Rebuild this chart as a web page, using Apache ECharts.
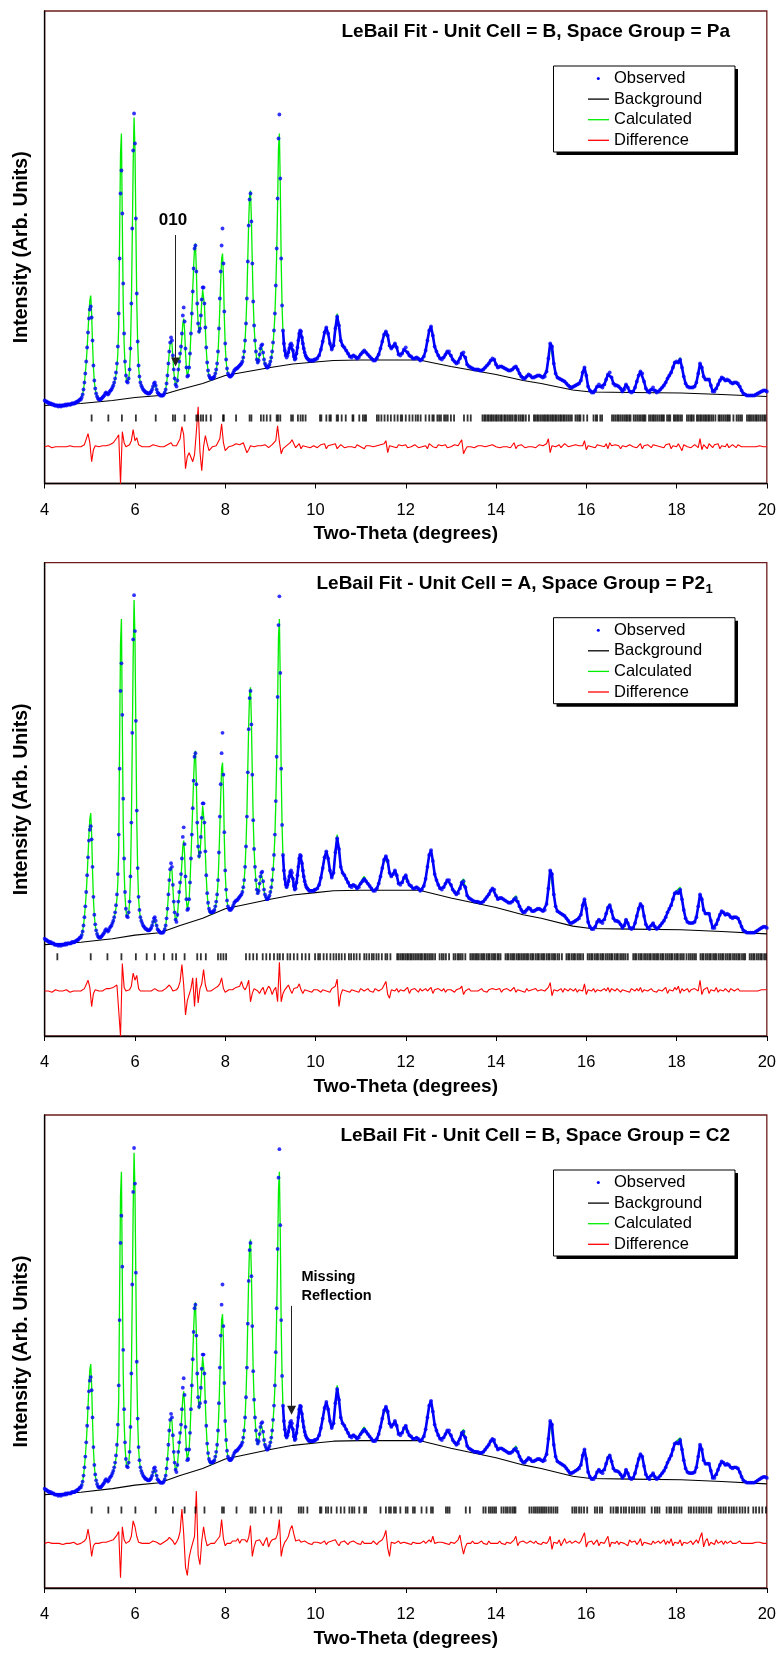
<!DOCTYPE html>
<html><head><meta charset="utf-8">
<script src="https://cdn.jsdelivr.net/npm/echarts@6/dist/echarts.min.js"></script>
<style>html,body{margin:0;padding:0;background:#fff;overflow:hidden}#c{width:779px;height:1653px}</style>
</head><body><div id="c"></div>
<script>
// ---------- DATA (intensity in arbitrary units) ----------
const X_TICKS = [4, 6, 8, 10, 12, 14, 16, 18, 20];
const LOW_START = 4, LOW_STEP = 0.02;     // 2theta grid of observedLow / calculatedLow
const HIGH_START = 10, HIGH_STEP = 0.04;  // 2theta grid of observedHigh / calculatedHigh
const DIFF_START = 4, DIFF_STEP = 0.04;   // 2theta grid of the difference curves

const observedLow = [
83,82,82,81,81,80,80,80,79,79,
79,78,78,78,78,77,78,78,77,78,
78,78,78,79,78,79,79,79,79,79,
80,80,80,80,81,81,82,82,83,84,
84,86,89,94,101,110,122,136,151,165,
174,177,166,143,118,103,95,90,87,85,
84,84,84,85,86,87,88,90,91,90,
89,90,92,93,94,96,98,101,105,111,
120,137,170,225,290,313,270,200,150,122,
108,102,101,105,114,135,180,255,333,370,
340,265,190,142,118,107,101,98,96,94,
93,92,91,91,90,90,90,91,92,94,
97,100,101,98,94,91,90,89,88,88,
88,88,89,91,94,100,108,120,132,141,
146,143,128,114,105,99,97,103,114,122,
130,137,150,168,176,162,135,116,107,108,
116,130,150,170,192,215,235,238,212,180,
160,152,155,168,184,196,196,180,156,136,
121,113,108,106,105,105,105,106,107,110,
114,120,132,155,185,212,238,255,220,172,
140,124,115,110,108,107,107,108,109,111,
113,114,115,115,116,117,118,119,120,122,
126,132,143,160,185,222,258,284,290,262,
220,182,158,143,132,124,121,123,129,135,
138,139,131,124,120,118,116,116,117,119,
122,126,132,141,153,170,198,235,285,345,
369,305,225,178,153,140,133,128,126,128,
131,135,139,140,138,133,127,124,125,130,
136,143,150,153,152,146,140,135,131,128,
126,125,124,123,123,123,123,123,123,124];

const observedHigh = [
124,125,128,134,142,151,156,150,140,134,
138,155,167,158,143,138,136,133,130,127,
126,128,127,125,126,129,131,133,131,129,
127,125,123,123,125,129,135,142,149,152,
148,138,135,137,140,136,129,128,130,134,
136,131,128,127,125,125,126,125,123,124,
127,133,143,153,157,148,137,132,128,125,
124,126,129,132,132,128,124,122,120,121,
125,130,131,126,119,117,116,115,114,114,
114,113,113,114,116,118,120,123,125,124,
119,116,117,117,116,115,114,113,113,114,
116,117,114,110,107,105,105,107,109,108,
106,106,107,108,108,107,106,107,112,125,
140,137,120,110,106,105,104,103,102,100,
98,96,96,97,98,99,100,103,111,116,
108,97,93,91,91,93,97,99,97,96,
99,104,109,111,106,100,98,98,97,95,
92,94,99,96,92,91,92,96,102,108,
112,110,102,95,92,91,94,96,93,91,
92,94,96,98,101,105,108,111,116,121,
122,121,124,116,107,100,97,96,96,96,
97,101,110,120,116,107,104,104,104,98,
92,92,95,99,103,106,105,103,104,103,
101,100,101,101,100,97,93,90,89,88,
88,88,88,88,89,90,91,92,93,93,
92];

const calculatedLow = [
83,82,82,81,81,80,80,80,79,79,
79,78,78,78,78,78,78,78,78,78,
78,78,78,78,78,79,79,79,79,79,
80,80,80,80,81,81,82,82,83,84,
84,86,89,94,101,110,121,135,152,170,
183,188,170,140,116,102,94,90,87,85,
84,84,84,85,86,87,88,90,91,90,
89,90,92,93,94,96,98,101,104,109,
116,130,158,250,330,350,260,180,140,118,
107,101,100,104,113,134,178,245,318,366,
335,258,182,140,117,106,101,98,96,94,
93,92,91,91,90,90,90,91,92,94,
97,99,100,98,94,91,90,89,88,88,
88,88,89,91,94,100,108,119,131,140,
143,140,126,112,104,98,97,102,112,120,
127,134,146,160,165,153,131,115,107,108,
116,130,150,171,194,217,236,240,214,178,
160,150,153,166,182,194,195,178,154,134,
120,112,107,104,103,103,104,105,106,109,
113,119,130,150,176,202,225,230,208,166,
138,122,114,110,108,107,107,108,109,111,
113,114,115,115,116,117,118,119,120,122,
126,132,143,161,187,225,262,288,293,264,
221,182,157,142,131,123,120,122,128,134,
137,138,130,123,119,117,115,115,116,118,
121,125,131,140,152,168,195,230,278,335,
350,298,222,176,152,139,132,127,125,127,
130,133,137,138,136,132,126,123,124,129,
135,142,149,152,151,145,139,134,130,127,
126,125,124,123,123,123,123,123,123,124];

const calculatedHigh = [
124,125,128,134,142,151,155,150,140,134,
139,157,170,158,143,138,136,133,130,127,
126,128,127,125,126,130,133,135,132,129,
127,125,123,123,125,129,135,142,150,151,
146,138,135,137,139,136,129,128,130,134,
135,131,128,127,125,125,126,125,123,124,
127,133,143,153,156,148,137,132,128,125,
124,126,129,132,131,128,124,122,120,121,
126,131,133,126,119,117,116,115,114,114,
114,113,113,114,116,118,120,123,124,124,
119,116,117,117,116,115,114,113,113,114,
117,119,114,110,107,105,105,107,109,108,
106,106,107,108,108,107,106,107,112,124,
138,139,120,110,106,105,104,103,102,100,
98,96,96,97,98,99,100,103,110,114,
108,97,93,91,91,93,97,99,97,96,
99,104,110,112,106,100,98,98,97,95,
92,94,99,96,92,91,92,96,102,108,
112,110,102,95,92,91,94,96,93,91,
92,94,96,98,101,105,108,111,116,121,
123,122,126,116,107,100,97,96,96,96,
97,101,110,118,116,107,104,104,104,98,
92,92,95,99,103,106,105,103,104,103,
101,100,101,101,100,97,93,90,89,88,
88,88,88,88,89,90,91,92,93,93,
92];

const background = [[4.0,78],[4.8,80],[5.5,83],[6.0,86],[6.55,88],[7.0,94],[7.5,100],[8.0,108],[8.5,112],[9.0,116],[9.5,119.5],[10.0,121.5],[10.4,123],[11.0,123.5],[12.3,123.5],[13.0,117],[13.5,113],[14.0,109],[14.6,103],[15.0,100],[15.7,93.5],[16.1,91.5],[17.0,91],[18.1,90.5],[19.0,89],[20.0,87]];

const differencePa = [
0,0,1,0,-1,0,0,1,0,0, 0,-1,0,0,1,0,0,-1,0,1, 0,1,2,4,13,4,-15,-3,1,0, 0,1,1,2,1,2,2,3,4,6,
9,12,-37,15,4,0,-1,2,6,17, 6,9,2,0,0,-1,0,1,0,1, 2,3,1,0,0,-1,0,1,2,3, 4,1,-1,1,3,8,20,12,-22,-10,
-6,-7,-15,-8,15,40,-5,-24,0,11, 3,-4,-2,0,0,1,3,8,23,4, -4,-2,0,0,1,2,3,4,2,3, 4,2,-6,-3,1,3,0,-1,1,2,
1,0,2,1,-1,0,2,3,6,21, 5,-7,-2,0,1,2,4,7,3,-1, 1,3,-2,1,2,0,1,-1,0,1, 0,-1,1,2,1,3,-2,1,0,2,
1,3,-2,0,2,1,-1,1,0,2, 0,1,-1,2,1,0,2,-2,1,0, 1,2,0,-1,1,0,2,1,3,6, -6,1,2,0,1,-1,2,0,1,0,
2,-1,1,0,1,2,0,-1,1,0, 2,1,-2,3,1,0,1,-1,2,0, 1,0,2,-1,1,0,1,2,0,1, 3,7,-7,-3,0,1,0,1,-1,0,
1,0,1,2,0,-1,1,0,2,1, 0,1,-1,1,0,2,0,1,-1,1, 4,-2,1,0,2,1,-1,1,0,2, 0,1,-1,1,2,0,1,-1,3,8,
-6,1,2,0,1,2,-1,1,3,1, 0,2,1,-1,2,0,1,2,1,6, -3,1,2,0,1,-1,2,0,1,2, 0,3,-2,4,1,-1,2,0,1,-2,
1,2,0,-1,2,1,0,2,-1,1, 3,-2,1,0,2,1,-1,2,0,1, 2,0,1,-1,2,1,3,-2,1,2, 0,3,1,-4,2,1,0,2,-1,1,
2,1,-1,8,-3,2,1,-2,3,1, -1,2,0,3,-2,1,2,0,3,-1, 1,2,0,-1,2,1,0,1,0,1, 0,1,0,1,0,0,1,0,0,1,
0];

const differenceP21 = [
0,1,0,0,-1,0,1,0,0,-1, 0,0,1,0,-1,0,0,1,0,1, 0,1,2,3,9,3,-13,-2,1,0, 0,1,0,1,2,1,2,2,3,4,
5,6,-38,23,3,0,0,1,4,15, 9,13,2,0,1,0,-1,0,1,0, 1,2,1,0,-1,0,1,2,3,5, 3,0,-1,1,3,8,22,5,-20,-8,
-3,2,11,-13,11,-10,2,6,18,5, 0,-1,0,1,2,3,4,6,11,2, -1,0,1,2,1,2,3,2,4,8, 3,1,4,9,-9,-2,2,3,0,-2,
1,3,-3,1,4,2,-3,1,3,-9, 24,-9,-2,1,3,5,1,-2,2,1, 3,6,1,-2,1,2,0,1,-1,1, 0,1,2,-1,1,2,0,1,-1,2,
1,4,10,-13,-3,1,2,0,1,-1, 1,2,0,1,-1,2,1,0,1,2, 0,1,-1,2,1,0,1,2,3,8, -3,-6,1,2,0,2,-1,1,2,0,
1,3,-2,1,0,2,1,-1,2,0, 1,2,0,-1,3,-2,1,0,2,1, 0,2,-1,1,0,1,2,-1,1,0, 2,4,-3,0,1,2,0,1,0,1,
0,1,2,0,1,-1,1,0,2,1, 1,0,2,-1,1,0,2,1,0,1, 3,-1,1,2,0,1,-1,2,0,1, 1,0,2,0,-1,1,2,0,1,3,
7,-4,1,2,0,1,2,-1,2,1, 0,2,1,0,2,-1,1,2,0,6, -3,1,2,0,2,-1,1,2,0,1, 2,0,3,-1,2,1,0,2,1,-1,
1,2,0,1,-1,2,1,0,2,0, 3,-1,1,2,0,1,2,0,1,-1, 1,2,0,1,3,-2,1,2,0,3, 1,4,-2,2,0,1,2,-1,1,0,
2,1,0,9,-3,1,2,3,-2,1, 2,0,3,-1,1,2,0,2,1,-1, 2,1,0,1,2,0,1,0,1,0, 1,0,1,0,1,0,0,1,0,1,
1];

const differenceC2 = [
0,0,1,0,0,-1,0,1,0,0, -1,0,0,1,0,0,1,0,-1,0, 0,1,2,4,12,3,-11,-2,0,1, 0,0,1,2,1,1,2,3,3,5,
7,10,-29,14,3,0,-1,2,6,19, 14,6,1,0,0,1,0,-1,0,1, 2,2,1,0,-1,0,1,2,3,5, 6,2,-1,1,4,10,29,8,-20,-27,
-12,-5,-6,6,44,-10,-18,2,14,4, -2,-1,0,1,0,2,3,6,20,4, -2,0,1,0,2,3,2,4,0,3, 2,3,1,5,15,-11,-3,2,1,3,
4,-2,2,5,-3,1,3,2,4,8, 20,-11,-3,1,3,6,12,15,8,2, 1,3,1,0,2,1,0,1,-1,1, 0,1,2,0,1,2,-1,1,0,2,
1,3,0,-2,1,0,2,1,-1,1, 0,2,1,0,1,-1,2,0,1,0, 1,0,2,1,-1,1,2,3,6,11, -4,-11,1,2,0,1,2,0,-1,1,
2,0,1,-1,1,2,0,1,0,1, 2,0,1,3,1,6,0,-1,1,0, 1,2,0,1,-1,1,2,0,1,3, 7,-2,-9,-3,0,1,0,2,0,1,
0,1,2,0,1,-1,2,0,1,0, 1,0,2,0,1,-1,1,2,0,1, 3,6,-2,1,0,2,1,0,-1,2, 1,0,2,0,1,-1,1,2,0,2,
6,-5,1,2,0,3,-2,1,4,0, 1,2,0,-1,2,1,0,2,1,9, -3,1,0,2,-1,1,3,-2,1,2, 0,3,6,-3,1,2,0,2,-1,1,
2,0,1,-2,3,1,0,2,-1,1, 4,-2,1,2,0,1,-1,2,0,1, 2,0,1,3,-1,2,0,4,-2,1, 2,0,3,-2,1,2,0,1,2,-1,
1,3,0,5,9,-3,2,4,-2,1, 2,-1,3,0,1,2,-1,2,0,1, 2,0,1,0,1,2,0,1,0,1, 0,1,0,0,1,0,1,0,0,1,
0];

const reflectionsPa = [5.04,5.41,5.71,6.02,6.46,6.84,6.89,7.10,7.36,7.40,7.46,7.51,7.58,7.68,7.95,7.97,8.24,8.54,8.58,8.79,8.85,8.92,9.00,9.14,9.17,9.22,9.46,9.50,9.61,9.67,9.72,9.78,10.10,10.13,10.24,10.31,10.34,10.47,10.50,10.58,10.67,10.82,10.84,10.97,11.05,11.09,11.12,11.36,11.40,11.46,11.53,11.60,11.67,11.75,11.82,11.89,11.92,12.00,12.08,12.15,12.22,12.27,12.33,12.44,12.52,12.59,12.62,12.70,12.74,12.78,12.85,12.89,12.93,13.00,13.07,13.29,13.37,13.44,13.70,13.74,13.77,13.81,13.84,13.88,13.91,13.95,13.99,14.02,14.06,14.10,14.13,14.18,14.21,14.25,14.29,14.33,14.37,14.42,14.45,14.50,14.54,14.58,14.61,14.66,14.73,14.84,14.87,14.91,14.94,14.98,15.02,15.06,15.09,15.13,15.16,15.20,15.24,15.27,15.31,15.34,15.38,15.42,15.45,15.49,15.52,15.56,15.60,15.64,15.68,15.76,15.80,15.84,15.87,15.94,16.02,16.16,16.21,16.24,16.31,16.35,16.57,16.61,16.65,16.69,16.72,16.76,16.80,16.84,16.88,16.91,16.95,16.98,17.05,17.09,17.13,17.17,17.21,17.25,17.28,17.31,17.39,17.43,17.47,17.50,17.54,17.58,17.62,17.66,17.69,17.72,17.79,17.83,17.86,17.94,17.97,18.01,18.04,18.08,18.12,18.23,18.27,18.31,18.34,18.38,18.45,18.48,18.52,18.55,18.59,18.63,18.66,18.70,18.73,18.77,18.81,18.86,18.93,18.96,19.00,19.04,19.08,19.12,19.15,19.18,19.26,19.33,19.37,19.41,19.45,19.56,19.60,19.63,19.67,19.71,19.75,19.78,19.82,19.86,19.90,19.94,19.97];

const reflectionsP21 = [3.99,4.28,5.02,5.39,5.70,6.02,6.26,6.44,6.64,6.83,6.91,7.10,7.38,7.46,7.57,7.84,7.90,7.96,8.02,8.46,8.54,8.62,8.70,8.83,8.91,8.99,9.08,9.16,9.21,9.28,9.38,9.44,9.52,9.60,9.70,9.78,9.86,9.99,10.06,10.10,10.18,10.25,10.33,10.40,10.46,10.52,10.58,10.65,10.74,10.79,10.85,10.91,10.98,11.08,11.13,11.19,11.25,11.29,11.35,11.40,11.47,11.55,11.59,11.66,11.81,11.84,11.88,11.92,11.95,11.99,12.03,12.06,12.10,12.13,12.17,12.21,12.25,12.29,12.33,12.36,12.41,12.44,12.48,12.52,12.56,12.60,12.65,12.75,12.80,12.84,12.89,12.96,13.06,13.10,13.15,13.18,13.22,13.26,13.32,13.43,13.47,13.51,13.55,13.58,13.62,13.67,13.71,13.74,13.79,13.83,13.86,13.91,13.95,13.98,14.03,14.06,14.10,14.21,14.25,14.28,14.33,14.37,14.40,14.45,14.49,14.52,14.56,14.60,14.64,14.68,14.71,14.76,14.80,14.83,14.88,14.92,14.95,15.00,15.04,15.07,15.12,15.16,15.19,15.24,15.28,15.31,15.36,15.40,15.46,15.56,15.60,15.63,15.68,15.72,15.75,15.80,15.84,15.88,15.93,16.03,16.07,16.11,16.14,16.19,16.23,16.26,16.31,16.35,16.38,16.43,16.47,16.51,16.55,16.58,16.63,16.67,16.70,16.75,16.79,16.83,16.87,16.92,17.04,17.08,17.11,17.16,17.20,17.23,17.28,17.32,17.36,17.40,17.43,17.48,17.52,17.56,17.59,17.64,17.68,17.71,17.76,17.80,17.84,17.88,17.91,17.96,18.00,18.03,18.08,18.12,18.16,18.22,18.27,18.31,18.35,18.39,18.43,18.53,18.57,18.60,18.65,18.69,18.73,18.76,18.81,18.85,18.88,18.93,18.97,19.01,19.04,19.09,19.13,19.17,19.20,19.25,19.29,19.33,19.37,19.40,19.45,19.49,19.52,19.62,19.66,19.70,19.73,19.78,19.82,19.86,19.89,19.94,19.98];

const reflectionsC2 = [5.04,5.41,5.70,6.01,6.46,6.84,7.10,7.34,7.54,7.93,7.97,8.25,8.56,8.60,8.67,8.86,9.02,9.18,9.24,9.63,9.68,9.73,9.82,10.10,10.13,10.23,10.28,10.35,10.47,10.56,10.64,10.75,10.81,10.86,10.97,11.08,11.12,11.44,11.56,11.63,11.67,11.74,11.78,11.88,12.00,12.04,12.16,12.20,12.35,12.46,12.56,12.60,12.89,12.93,12.97,13.33,13.42,13.72,13.77,13.84,13.88,13.92,13.96,14.00,14.12,14.17,14.22,14.26,14.31,14.36,14.40,14.43,14.74,14.79,14.84,14.88,14.92,14.96,15.00,15.04,15.08,15.12,15.17,15.22,15.27,15.32,15.36,15.69,15.74,15.78,15.84,15.89,15.95,16.02,16.19,16.24,16.30,16.35,16.54,16.60,16.66,16.70,16.77,16.83,16.88,16.95,17.01,17.06,17.12,17.18,17.24,17.29,17.45,17.52,17.57,17.62,17.78,17.84,17.88,17.95,18.00,18.06,18.11,18.27,18.32,18.38,18.44,18.50,18.55,18.60,18.66,18.72,18.77,18.93,18.98,19.04,19.09,19.16,19.22,19.27,19.33,19.40,19.46,19.52,19.59,19.70,19.76,19.83,19.90,19.98];

const panelTitles = ['LeBail Fit - Unit Cell = B, Space Group = Pa', 'LeBail Fit - Unit Cell = A, Space Group = P2', 'LeBail Fit - Unit Cell = B, Space Group = C2'];
const panelTitleSubscripts = ['', '1', ''];
const legendNames = ['Observed', 'Background', 'Calculated', 'Difference'];
const xAxisTitle = 'Two-Theta (degrees)';
const yAxisTitle = 'Intensity (Arb. Units)';
// annotation arrows: [panel, 2theta, from intensity, to intensity]
const annotationArrows = [[0, 6.9, 248.5, 121.5], [2, 9.47, 237, 149]];

// ---------- LAYOUT / STYLE ----------
const FONT = '"Liberation Sans", Arial, Helvetica, sans-serif';
const GRID_LEFT = 44.7, GRID_WIDTH = 723.8;
const SOLID_TRACE_FROM = 9.28; // above this angle the dense observed points merge into a solid band
const layout = [
  {top: 11,    height: 472.5, yMin: 0,    yMax: 472.5, diffBase: 36.8, tickRow: 65.5},
  {top: 562.7, height: 473.3, yMin: 1.7,  yMax: 397.1, diffBase: 39.3, tickRow: 67.9},
  {top: 1115,  height: 473,   yMin: -0.7, yMax: 397.8, diffBase: 36.9, tickRow: 65.0}
];
const COLORS = {obs: '#0000ff', bg: '#000000', calc: '#00ee00', diff: '#ff0000'};

function onGrid(vals, start, step) { return vals.map((v, i) => [+(start + i * step).toFixed(3), v]); }
const observed = onGrid(observedLow, LOW_START, LOW_STEP).concat(onGrid(observedHigh, HIGH_START, HIGH_STEP));
const observedBand = observed.filter(p => p[0] >= SOLID_TRACE_FROM);
const calculated = onGrid(calculatedLow, LOW_START, LOW_STEP).concat(onGrid(calculatedHigh, HIGH_START, HIGH_STEP));
const differences = [differencePa, differenceP21, differenceC2];
const reflections = [reflectionsPa, reflectionsP21, reflectionsC2];

const grids = [], xAxes = [], yAxes = [], series = [], graphics = [];

layout.forEach((L, i) => {
  grids.push({left: GRID_LEFT, top: L.top, width: GRID_WIDTH, height: L.height, show: true,
    borderColor: '#6e1c1c', borderWidth: 1.3, backgroundColor: 'transparent'});
  xAxes.push({gridIndex: i, type: 'value', min: X_TICKS[0], max: X_TICKS[X_TICKS.length - 1], interval: X_TICKS[1] - X_TICKS[0],
    axisLine: {onZero: false, lineStyle: {color: '#000', width: 1.3}},
    axisTick: {show: true, inside: false, length: 5, lineStyle: {color: '#000', width: 1}},
    axisLabel: {fontSize: 16.5, color: '#000', fontFamily: FONT, margin: 18},
    splitLine: {show: false},
    name: xAxisTitle, nameLocation: 'middle', nameGap: 41,
    nameTextStyle: {fontSize: 19, fontWeight: 'bold', color: '#000', fontFamily: FONT}});
  yAxes.push({gridIndex: i, type: 'value', min: L.yMin, max: L.yMax,
    axisLine: {show: true, onZero: false, lineStyle: {color: '#000', width: 1.3}},
    axisTick: {show: false}, axisLabel: {show: false}, splitLine: {show: false},
    name: yAxisTitle, nameLocation: 'middle', nameRotate: 90, nameGap: 13,
    nameTextStyle: {fontSize: 19.5, fontWeight: 'bold', color: '#000', fontFamily: FONT}});

  const arrows = annotationArrows.filter(a => a[0] === i).map(a => [{coord: [a[1], a[2]]}, {coord: [a[1], a[3]]}]);
  series.push({type: 'line', name: 'Background', xAxisIndex: i, yAxisIndex: i, data: background,
    symbol: 'none', lineStyle: {color: COLORS.bg, width: 1.1}, z: 2, silent: true,
    markLine: arrows.length ? {silent: true, symbol: ['none', 'triangle'], symbolSize: 9, label: {show: false},
      lineStyle: {color: '#222', width: 1, type: 'solid'}, itemStyle: {color: '#111'}, data: arrows, animation: false} : undefined});
  series.push({type: 'line', name: 'Calculated', xAxisIndex: i, yAxisIndex: i, data: calculated,
    symbol: 'none', lineStyle: {color: COLORS.calc, width: 1.3}, z: 3, silent: true});
  series.push({type: 'line', name: 'Observed', xAxisIndex: i, yAxisIndex: i, data: observedBand,
    symbol: 'none', lineStyle: {color: COLORS.obs, width: 2.6}, z: 4, silent: true});
  series.push({type: 'scatter', name: 'Observed', xAxisIndex: i, yAxisIndex: i, data: observed,
    symbol: 'circle', symbolSize: 3.8, itemStyle: {color: COLORS.obs}, z: 4, silent: true});
  series.push({type: 'line', name: 'Difference', xAxisIndex: i, yAxisIndex: i,
    data: differences[i].map((v, k) => [+(DIFF_START + k * DIFF_STEP).toFixed(3), v + L.diffBase]),
    symbol: 'none', lineStyle: {color: COLORS.diff, width: 1.1}, z: 3, silent: true});
  series.push({type: 'scatter', name: 'Reflections', xAxisIndex: i, yAxisIndex: i,
    data: reflections[i].map(t => [t, L.tickRow]),
    symbol: 'rect', symbolSize: [1.8, 7], itemStyle: {color: '#000'}, z: 3, silent: true});

  // panel title
  const titleRight = panelTitleSubscripts[i] ? 705 : 730;
  graphics.push({type: 'text', z: 100, style: {x: titleRight, y: L.top + 20.7, text: panelTitles[i],
    font: `bold 19px ${FONT}`, fill: '#000', align: 'right', verticalAlign: 'middle'}});
  if (panelTitleSubscripts[i]) {
    graphics.push({type: 'text', z: 100, style: {x: titleRight + 0.5, y: L.top + 26.5, text: panelTitleSubscripts[i],
      font: `bold 13px ${FONT}`, fill: '#000', align: 'left', verticalAlign: 'middle'}});
  }
  // legend box
  const x0 = 553.5, y0 = L.top + 55, w = 181.5, h = 86;
  const kids = [
    {type: 'rect', shape: {x: x0 + 3, y: y0 + 3, width: w, height: h}, style: {fill: '#000'}},
    {type: 'rect', shape: {x: x0, y: y0, width: w, height: h}, style: {fill: '#fff', stroke: '#000', lineWidth: 1}}
  ];
  const legendColors = [COLORS.obs, COLORS.bg, COLORS.calc, COLORS.diff];
  legendNames.forEach((nm, k) => {
    const cy = y0 + 12.5 + k * 20.6;
    if (k === 0) kids.push({type: 'circle', shape: {cx: x0 + 44.8, cy: cy, r: 1.5}, style: {fill: legendColors[k]}});
    else kids.push({type: 'line', shape: {x1: x0 + 34.5, y1: cy, x2: x0 + 55.5, y2: cy}, style: {stroke: legendColors[k], lineWidth: 1.3}});
    kids.push({type: 'text', style: {x: x0 + 60.5, y: cy, text: nm, font: `16.5px ${FONT}`, fill: '#000', align: 'left', verticalAlign: 'middle'}});
  });
  graphics.push({type: 'group', z: 100, children: kids});
});

// annotation texts
graphics.push({type: 'text', z: 100, style: {x: 173, y: 220, text: '010', font: `bold 17px ${FONT}`, fill: '#000', align: 'center', verticalAlign: 'middle'}});
graphics.push({type: 'text', z: 100, style: {x: 301.5, y: 1277.3, text: 'Missing', font: `bold 14.5px ${FONT}`, fill: '#000', align: 'left', verticalAlign: 'middle'}});
graphics.push({type: 'text', z: 100, style: {x: 301.5, y: 1296.3, text: 'Reflection', font: `bold 14.5px ${FONT}`, fill: '#000', align: 'left', verticalAlign: 'middle'}});

const chart = echarts.init(document.getElementById('c'), null, {renderer: 'canvas', width: 779, height: 1653});
chart.setOption({
  animation: false,
  backgroundColor: '#ffffff',
  grid: grids, xAxis: xAxes, yAxis: yAxes, series: series, graphic: graphics
});
</script>
</body></html>
